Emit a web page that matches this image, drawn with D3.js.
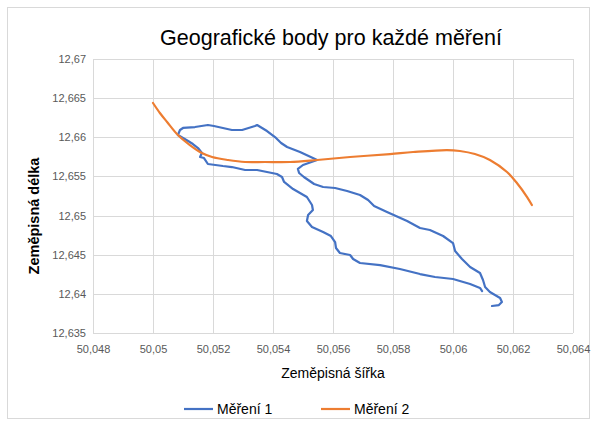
<!DOCTYPE html>
<html>
<head>
<meta charset="utf-8">
<script src="https://cdn.jsdelivr.net/npm/d3@7"></script>
<style>
  body { margin: 0; background: #fff; }
  #chart_div { width: 597px; height: 426px; }
</style>
</head>
<body>
<div id="chart_div"></div>
<script>
// Měření 1 - [zeměpisná šířka, zeměpisná délka]
var mereni1 = [
  [50.06097, 12.64036], [50.0609, 12.64075], [50.06057, 12.64126], [50.06, 12.6419],
  [50.0594, 12.64215], [50.0589, 12.64253], [50.05823, 12.64317], [50.05757, 12.64368],
  [50.0569, 12.64394], [50.05667, 12.64445], [50.05657, 12.64496], [50.05623, 12.64522],
  [50.0561, 12.64586], [50.05607, 12.64662], [50.05593, 12.64739], [50.05567, 12.6479],
  [50.0553, 12.64854], [50.05513, 12.6493], [50.05517, 12.65007], [50.05533, 12.65071],
  [50.0553, 12.65135], [50.05513, 12.65237], [50.05467, 12.65339], [50.05437, 12.65429],
  [50.0543, 12.65493], [50.05413, 12.65531], [50.0538, 12.65556], [50.05347, 12.65582],
  [50.05307, 12.65582], [50.05263, 12.6562], [50.05233, 12.65633], [50.05183, 12.65659],
  [50.0517, 12.65735], [50.05157, 12.65748], [50.05163, 12.65799], [50.0515, 12.65863],
  [50.05133, 12.65914], [50.05117, 12.65952], [50.05083, 12.66029],
  [50.0509, 12.66093], [50.051, 12.66119], [50.0514, 12.66131], [50.05183, 12.66157],
  [50.05203, 12.66144], [50.05263, 12.66093], [50.05297, 12.66093], [50.0534, 12.66144],
  [50.05347, 12.66157], [50.0538, 12.6608], [50.0541, 12.65991], [50.05427, 12.65927],
  [50.05447, 12.65876], [50.0549, 12.65812], [50.05533, 12.65735], [50.05547, 12.6571],
  [50.055, 12.65646], [50.05483, 12.65595], [50.05487, 12.65544], [50.05503, 12.65493],
  [50.05537, 12.65403], [50.05567, 12.65365], [50.05607, 12.65352], [50.05647, 12.65314],
  [50.0569, 12.65263], [50.05717, 12.65199], [50.05737, 12.65122], [50.0578, 12.65045],
  [50.05847, 12.6493], [50.0589, 12.64841], [50.05923, 12.64816], [50.05967, 12.64739],
  [50.06, 12.64649], [50.06007, 12.64547], [50.0603, 12.64445], [50.06057, 12.64343],
  [50.0609, 12.64266], [50.061, 12.64177], [50.06107, 12.64087], [50.06123, 12.64023],
  [50.06157, 12.63947], [50.06163, 12.63896], [50.06153, 12.63857], [50.0613, 12.63845]
];

// Měření 2
var mereni2 = [
  [50.05, 12.66438], [50.05023, 12.6631], [50.05047, 12.66195], [50.05083, 12.66029],
  [50.05123, 12.65901], [50.05163, 12.65799], [50.05197, 12.65748], [50.0525, 12.6571],
  [50.05307, 12.65684], [50.05373, 12.65684], [50.05457, 12.65684], [50.05547, 12.6571],
  [50.05657, 12.65748], [50.0579, 12.65786], [50.05867, 12.65812], [50.0598, 12.65837],
  [50.06023, 12.65825], [50.06073, 12.65786], [50.06123, 12.6571], [50.0618, 12.65556],
  [50.06213, 12.65416], [50.06247, 12.65237], [50.06263, 12.65135]
];

var xTicks = [50.048, 50.05, 50.052, 50.054, 50.056, 50.058, 50.06, 50.062, 50.064];
var yTicks = [12.635, 12.64, 12.645, 12.65, 12.655, 12.66, 12.665, 12.67];
var seriesNames = ["Měření 1", "Měření 2"];

var width = 597, height = 426;
var marginLeft = 93, marginRight = 24, marginTop = 59, marginBottom = 93;

var font = "'Liberation Sans', Arial, sans-serif";
var fmt = d => String(+d.toFixed(3)).replace(".", ",");

var x = d3.scaleLinear()
  .domain([50.048, 50.064])
  .range([marginLeft, width - marginRight]);

var y = d3.scaleLinear()
  .domain([12.635, 12.67])
  .range([height - marginBottom, marginTop]);

var svg = d3.select("#chart_div")
  .append("svg")
  .attr("width", width)
  .attr("height", height)
  .attr("viewBox", [0, 0, width, height])
  .style("font-family", font);

// outer frame
svg.append("rect")
  .attr("x", 7.5).attr("y", 7.5)
  .attr("width", width - 15).attr("height", height - 15)
  .attr("fill", "#fff")
  .attr("stroke", "#d9d9d9");

// gridlines
svg.append("g")
  .attr("stroke", "#d9d9d9")
  .attr("stroke-width", 1)
  .call(g => g.selectAll(".vx").data(xTicks).join("line")
    .attr("x1", d => Math.round(x(d)) + 0.5).attr("x2", d => Math.round(x(d)) + 0.5)
    .attr("y1", y(12.67)).attr("y2", y(12.635)))
  .call(g => g.selectAll(".hy").data(yTicks).join("line")
    .attr("y1", d => Math.round(y(d)) + 0.5).attr("y2", d => Math.round(y(d)) + 0.5)
    .attr("x1", x(50.048)).attr("x2", x(50.064)));

// x axis
svg.append("g")
  .attr("transform", `translate(0,${height - marginBottom})`)
  .call(d3.axisBottom(x).tickValues(xTicks).tickFormat(fmt).tickSize(0).tickPadding(12))
  .call(g => g.select(".domain").remove())
  .call(g => g.selectAll("text").attr("fill", "#595959").style("font-size", "11px").style("font-family", font));

// y axis
svg.append("g")
  .attr("transform", `translate(${marginLeft},0)`)
  .call(d3.axisLeft(y).tickValues(yTicks).tickFormat(fmt).tickSize(0).tickPadding(7))
  .call(g => g.select(".domain").remove())
  .call(g => g.selectAll("text").attr("fill", "#595959").style("font-size", "11px").style("font-family", font));

// title
svg.append("text")
  .attr("x", 331).attr("y", 45)
  .attr("text-anchor", "middle")
  .attr("fill", "#000")
  .style("font-size", "21.5px")
  .text("Geografické body pro každé měření");

// axis titles
svg.append("text")
  .attr("x", 333).attr("y", 378)
  .attr("text-anchor", "middle")
  .attr("fill", "#000")
  .style("font-size", "14px")
  .text("Zeměpisná šířka");

svg.append("text")
  .attr("transform", "translate(39,216) rotate(-90)")
  .attr("text-anchor", "middle")
  .attr("fill", "#000")
  .style("font-size", "14.5px")
  .style("font-weight", "bold")
  .text("Zeměpisná délka");

// lines
var line = d3.line().x(d => x(d[0])).y(d => y(d[1]));

svg.append("path")
  .datum(mereni1)
  .attr("fill", "none")
  .attr("stroke", "#4472c4")
  .attr("stroke-width", 2.2)
  .attr("stroke-linejoin", "round")
  .attr("stroke-linecap", "round")
  .attr("d", line.curve(d3.curveLinear));

svg.append("path")
  .datum(mereni2)
  .attr("fill", "none")
  .attr("stroke", "#ed7d31")
  .attr("stroke-width", 2.2)
  .attr("stroke-linecap", "round")
  .attr("d", d3.line().x(d => x(d[0])).y(d => y(d[1])).curve(d3.curveCatmullRom)(mereni2));

// legend
var colors = ["#4472c4", "#ed7d31"];
var legend = svg.append("g")
  .selectAll("g")
  .data(seriesNames)
  .join("g")
  .attr("transform", (d, i) => `translate(${184 + i * 137},409)`);

legend.append("line")
  .attr("x1", 0).attr("x2", 29)
  .attr("stroke", (d, i) => colors[i])
  .attr("stroke-width", 2.2);

legend.append("text")
  .attr("x", 33).attr("y", 5)
  .attr("fill", "#000")
  .style("font-size", "14px")
  .text(d => d);
</script>
</body>
</html>
